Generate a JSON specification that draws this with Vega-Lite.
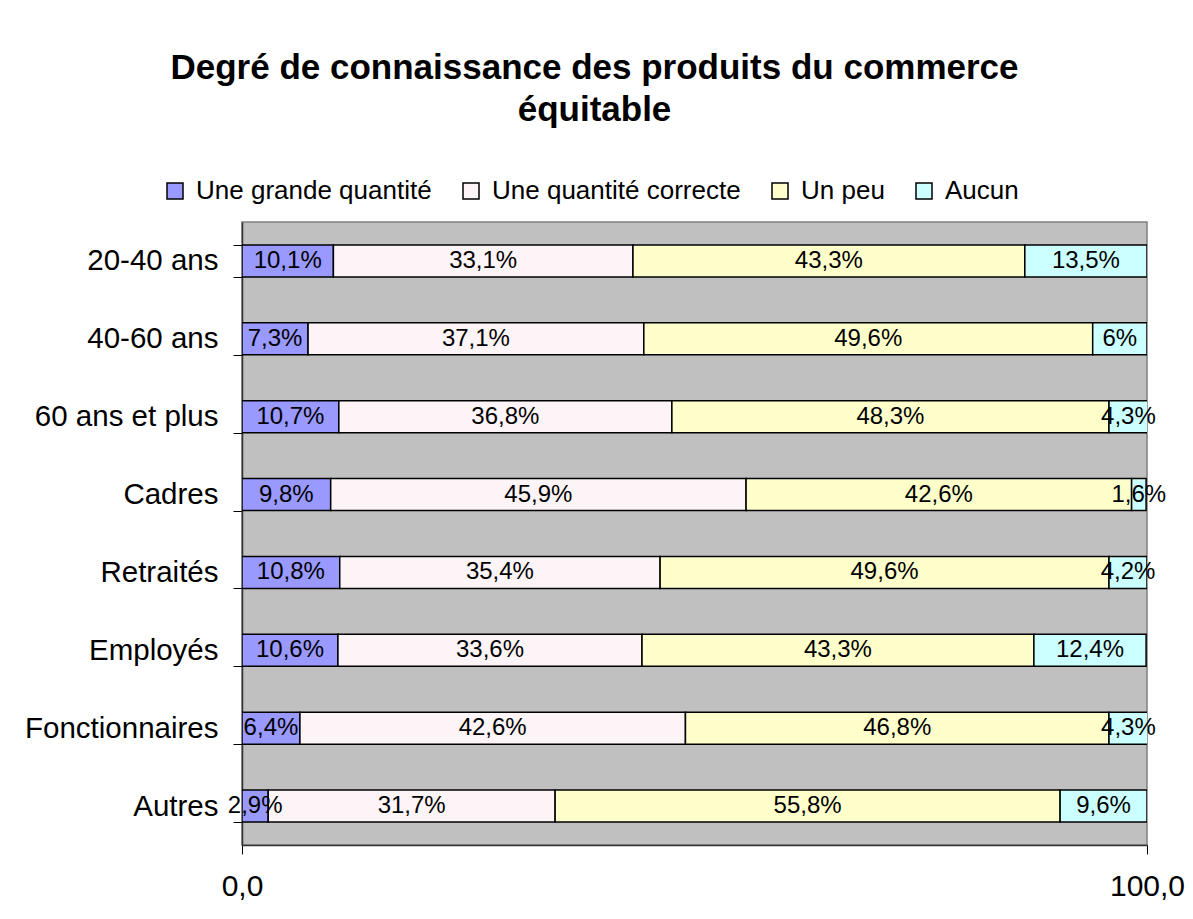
{
  "$schema": "https://vega.github.io/schema/vega-lite/v6.json",
  "width": 905,
  "height": 623,
  "autosize": {"type": "none"},
  "padding": {"left": 242, "top": 222, "right": 46, "bottom": 74},
  "background": "white",
  "title": {
    "text": ["Degré de connaissance des produits du commerce", "équitable"],
    "font": "Liberation Sans",
    "fontSize": 35,
    "fontWeight": "bold",
    "color": "black",
    "anchor": "middle",
    "frame": "group",
    "dx": -100,
    "lineHeight": 42,
    "offset": 50
  },
  "data": {
    "values": [
      {"cat": "20-40 ans", "serie": "Une grande quantité", "ord": 1, "v": 10.1, "lab": "10,1%"},
      {"cat": "20-40 ans", "serie": "Une quantité correcte", "ord": 2, "v": 33.1, "lab": "33,1%"},
      {"cat": "20-40 ans", "serie": "Un peu", "ord": 3, "v": 43.3, "lab": "43,3%"},
      {"cat": "20-40 ans", "serie": "Aucun", "ord": 4, "v": 13.5, "lab": "13,5%"},
      {"cat": "40-60 ans", "serie": "Une grande quantité", "ord": 1, "v": 7.3, "lab": "7,3%"},
      {"cat": "40-60 ans", "serie": "Une quantité correcte", "ord": 2, "v": 37.1, "lab": "37,1%"},
      {"cat": "40-60 ans", "serie": "Un peu", "ord": 3, "v": 49.6, "lab": "49,6%"},
      {"cat": "40-60 ans", "serie": "Aucun", "ord": 4, "v": 6.0, "lab": "6%"},
      {"cat": "60 ans et plus", "serie": "Une grande quantité", "ord": 1, "v": 10.7, "lab": "10,7%"},
      {"cat": "60 ans et plus", "serie": "Une quantité correcte", "ord": 2, "v": 36.8, "lab": "36,8%"},
      {"cat": "60 ans et plus", "serie": "Un peu", "ord": 3, "v": 48.3, "lab": "48,3%"},
      {"cat": "60 ans et plus", "serie": "Aucun", "ord": 4, "v": 4.3, "lab": "4,3%"},
      {"cat": "Cadres", "serie": "Une grande quantité", "ord": 1, "v": 9.8, "lab": "9,8%"},
      {"cat": "Cadres", "serie": "Une quantité correcte", "ord": 2, "v": 45.9, "lab": "45,9%"},
      {"cat": "Cadres", "serie": "Un peu", "ord": 3, "v": 42.6, "lab": "42,6%"},
      {"cat": "Cadres", "serie": "Aucun", "ord": 4, "v": 1.6, "lab": "1,6%"},
      {"cat": "Retraités", "serie": "Une grande quantité", "ord": 1, "v": 10.8, "lab": "10,8%"},
      {"cat": "Retraités", "serie": "Une quantité correcte", "ord": 2, "v": 35.4, "lab": "35,4%"},
      {"cat": "Retraités", "serie": "Un peu", "ord": 3, "v": 49.6, "lab": "49,6%"},
      {"cat": "Retraités", "serie": "Aucun", "ord": 4, "v": 4.2, "lab": "4,2%"},
      {"cat": "Employés", "serie": "Une grande quantité", "ord": 1, "v": 10.6, "lab": "10,6%"},
      {"cat": "Employés", "serie": "Une quantité correcte", "ord": 2, "v": 33.6, "lab": "33,6%"},
      {"cat": "Employés", "serie": "Un peu", "ord": 3, "v": 43.3, "lab": "43,3%"},
      {"cat": "Employés", "serie": "Aucun", "ord": 4, "v": 12.4, "lab": "12,4%"},
      {"cat": "Fonctionnaires", "serie": "Une grande quantité", "ord": 1, "v": 6.4, "lab": "6,4%"},
      {"cat": "Fonctionnaires", "serie": "Une quantité correcte", "ord": 2, "v": 42.6, "lab": "42,6%"},
      {"cat": "Fonctionnaires", "serie": "Un peu", "ord": 3, "v": 46.8, "lab": "46,8%"},
      {"cat": "Fonctionnaires", "serie": "Aucun", "ord": 4, "v": 4.3, "lab": "4,3%"},
      {"cat": "Autres", "serie": "Une grande quantité", "ord": 1, "v": 2.9, "lab": "2,9%"},
      {"cat": "Autres", "serie": "Une quantité correcte", "ord": 2, "v": 31.7, "lab": "31,7%"},
      {"cat": "Autres", "serie": "Un peu", "ord": 3, "v": 55.8, "lab": "55,8%"},
      {"cat": "Autres", "serie": "Aucun", "ord": 4, "v": 9.6, "lab": "9,6%"}
    ]
  },
  "transform": [
    {"stack": "v", "groupby": ["cat"], "sort": [{"field": "ord", "order": "ascending"}], "as": ["v0", "v1"]},
    {"calculate": "(datum.v0 + datum.v1) / 2", "as": "mid"}
  ],
  "encoding": {
    "y": {
      "field": "cat",
      "type": "nominal",
      "sort": ["20-40 ans", "40-60 ans", "60 ans et plus", "Cadres", "Retraités", "Employés", "Fonctionnaires", "Autres"],
      "scale": {"paddingInner": 0.59, "paddingOuter": 0.295},
      "axis": {
        "title": null,
        "tickBand": "extent",
        "tickSize": 9,
        "tickColor": "black",
        "tickWidth": 1,
        "domainColor": "#333333",
        "domainWidth": 1.5,
        "labelFont": "Liberation Sans",
        "labelFontSize": 29.5,
        "labelColor": "black",
        "labelPadding": 15,
        "labelLimit": 400,
        "grid": false
      }
    }
  },
  "layer": [
    {
      "mark": {"type": "bar", "stroke": "black", "strokeWidth": 1.5, "clip": true},
      "encoding": {
        "x": {
          "field": "v0",
          "type": "quantitative",
          "scale": {"domain": [0, 100], "nice": false, "zero": true},
          "axis": {
            "title": null,
            "values": [0, 100],
            "labelExpr": "replace(format(datum.value, '.1f'), '.', ',')",
            "tickSize": 9,
            "tickColor": "black",
            "domainColor": "#333333",
            "domainWidth": 1.5,
            "labelFont": "Liberation Sans",
            "labelFontSize": 30,
            "labelColor": "black",
            "labelPadding": 17,
            "labelFlush": false,
            "grid": false
          }
        },
        "x2": {"field": "v1"},
        "color": {
          "field": "serie",
          "type": "nominal",
          "scale": {
            "domain": ["Une grande quantité", "Une quantité correcte", "Un peu", "Aucun"],
            "range": ["#9999FF", "#FCF4F7", "#FFFFCC", "#CCFFFF"]
          },
          "legend": {
            "title": null,
            "orient": "none",
            "direction": "horizontal",
            "legendX": -80,
            "legendY": -44,
            "symbolType": "square",
            "symbolSize": 256,
            "symbolStrokeColor": "black",
            "symbolStrokeWidth": 1.5,
            "symbolOpacity": 1,
            "labelFont": "Liberation Sans",
            "labelFontSize": 26,
            "labelColor": "black",
            "labelOffset": 8,
            "columnPadding": 26,
            "labelLimit": 400
          }
        },
        "order": {"field": "ord"}
      }
    },
    {
      "mark": {"type": "text", "font": "Liberation Sans", "fontSize": 24, "color": "black", "align": "center", "baseline": "middle"},
      "encoding": {
        "x": {"field": "mid", "type": "quantitative"},
        "text": {"field": "lab"}
      }
    }
  ],
  "config": {
    "view": {"fill": "#C0C0C0", "stroke": "#808080", "strokeWidth": 1.5}
  }
}
